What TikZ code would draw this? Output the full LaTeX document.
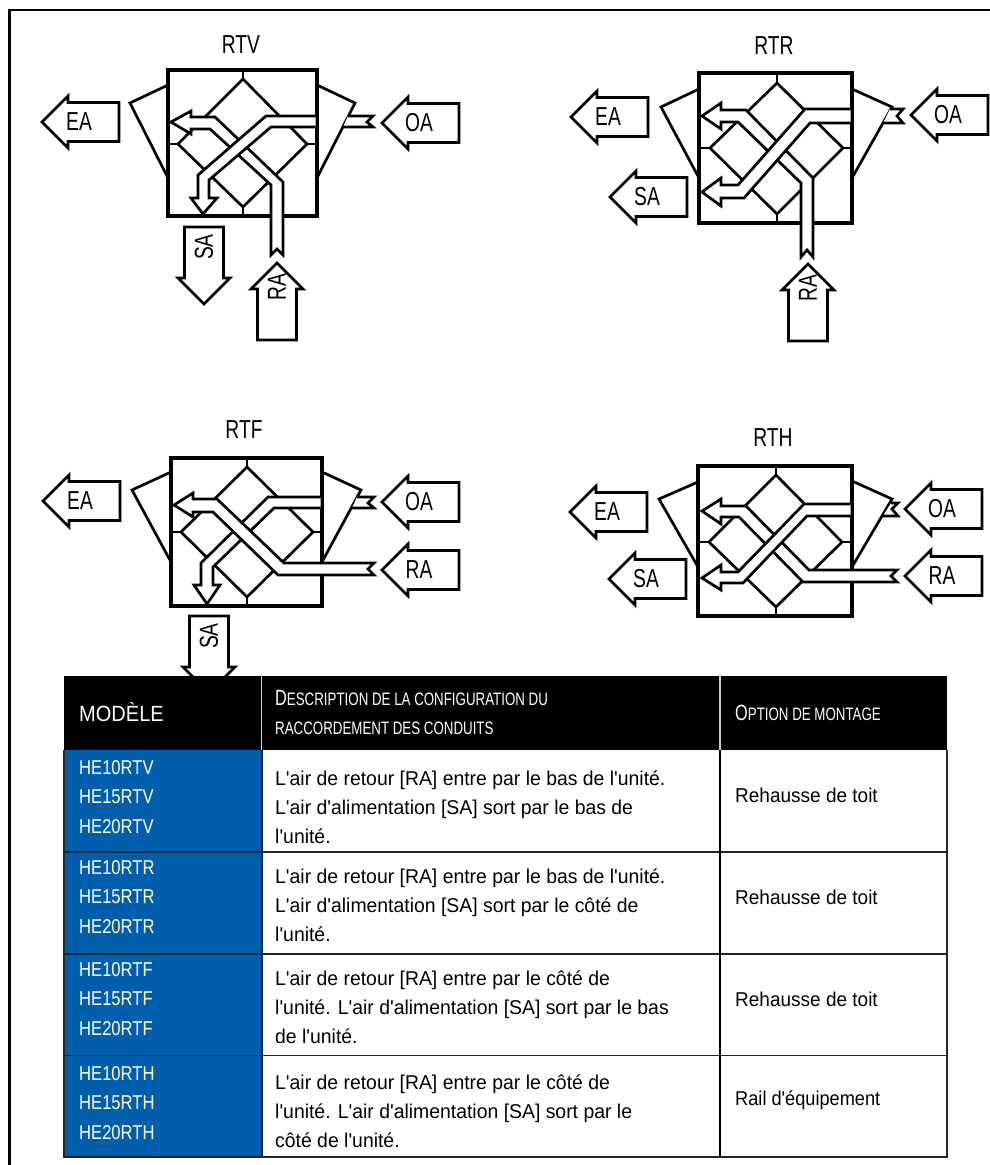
\documentclass[tikz,border=0pt]{standalone}
\usepackage{fontspec}
\setmainfont{Liberation Sans}
\newfontfamily\narrowfont[FakeStretch=0.74]{Liberation Sans}
\newfontfamily\cellfamily[FakeStretch=0.97]{Liberation Sans}
\newfontfamily\optfamily[FakeStretch=0.95]{Liberation Sans}
\newfontfamily\railfamily[FakeStretch=0.91]{Liberation Sans}
\newfontfamily\modelfamily[FakeStretch=0.83]{Liberation Sans}
\newfontfamily\headfamily[FakeStretch=0.74]{Liberation Sans}
\newfontfamily\modelhead[FakeStretch=0.91]{Liberation Sans}
\newcommand{\lbl}{\narrowfont\fontsize{26}{26}\selectfont}
\newcommand{\cellf}{\cellfamily\fontsize{20}{29}\selectfont}
\newcommand{\hdbig}{\fontsize{22}{29}\selectfont}
\newcommand{\hdsmall}{\headfamily\fontsize{18}{29}\selectfont}
\definecolor{tblue}{HTML}{005EAC}
\definecolor{navy}{HTML}{0B2A4A}
\tikzset{
  frameline/.style={line width=2.6pt,black},
  boxline/.style={line width=3.2pt,black,line join=miter},
  thin part/.style={line width=2.7pt,black,line join=miter},
  flowband/.style={line width=2.7pt,black,fill=white,line join=miter},
  airbox/.style={line width=2.7pt,black,fill=white,line join=miter},
  lab/.style={inner sep=0pt,font=\lbl},
  cell/.style={inner sep=0pt,anchor=west,align=left,font=\cellf,text=black},
  modelcell/.style={cell,text=white,font=\modelfamily\fontsize{20}{29.3}\selectfont},
  optcell/.style={cell,font=\optfamily\fontsize{20}{29}\selectfont},
  headcell/.style={inner sep=0pt,anchor=west,align=left,text=white,font=\hdsmall}
}
% left pointing air arrow: tip x, tip y, name, label
\newcommand{\airleft}[4]{%
  \draw[airbox] (#1,#2) -- ++(26,-26) -- ++(0,6.5) -- ++(51,0) -- ++(0,39) -- ++(-51,0) -- ++(0,6.5) -- cycle;
  \node[lab] (#3) at ([xshift=37pt]#1,#2) {#4};}
% down pointing air arrow: tip x, tip y
\newcommand{\airdown}[4]{%
  \draw[airbox] (#1,#2) -- ++(-26,-26) -- ++(6.5,0) -- ++(0,-51) -- ++(39,0) -- ++(0,51) -- ++(6.5,0) -- cycle;
  \node[lab,rotate=90] (#3) at ([yshift=57pt]#1,#2) {#4};}
% up pointing air arrow
\newcommand{\airup}[4]{%
  \draw[airbox] (#1,#2) -- ++(-26,26) -- ++(6.5,0) -- ++(0,51) -- ++(39,0) -- ++(0,-51) -- ++(6.5,0) -- cycle;
  \node[lab,rotate=90] (#3) at ([yshift=-24pt]#1,#2) {#4};}
% x0 y0 x1 y1 : box; cx cy : centre; top and bottom of the diamond; \dl \dr its sides
\newcommand{\core}[8]{%
  \draw[boxline] (#1,#2) rectangle (#3,#4);
  \draw[thin part] (#5,#7) -- (\dl,#6) -- (#5,#8) -- (\dr,#6) -- cycle;
  \draw[thin part] (#5,#7) -- (#5,#2);
  \draw[thin part] (#5,#8) -- (#5,#4);
  \draw[thin part] (#1,#6) -- (\dl,#6);
  \draw[thin part] (#3,#6) -- (\dr,#6);
}
\newcommand{\hoods}[9]{%
  \draw[thin part] (#1,#2) -- (#3,#4) -- (#1,#5);
  \draw[thin part] (#6,#7) -- (#8,#9) -- (#6,#5);
}
\begin{document}
\begin{tikzpicture}[x=1pt,y=-1pt]
\useasboundingbox (0,0) rectangle (990,1165);
\fill[white] (0,0) rectangle (990,1165);
\draw[frameline] (990,10) -- (9.5,10) -- (9.5,1165);

% ---------- RTV
\node[lab] (tRTV) at (241,45) {RTV};
\airleft{42}{122}{eaV}{EA}
\airleft{382}{123}{oaV}{OA}
\airdown{204}{304}{saV}{SA}
\airup{277}{263}{raV}{RA}
\def\dl{178}\def\dr{307}
\core{168}{70}{317}{216}{243}{144}{79}{207}
\hoods{168}{85}{130}{103}{178}{317}{85}{355}{103}
\filldraw[flowband] (171,122) -- (191,111) -- (191,117) -- (215,117) -- (283,182) -- (283,255) -- (277,249) -- (271,255) -- (271,185) -- (210,129) -- (191,129) -- (191,134) -- cycle;
\filldraw[flowband] (315.5,116) -- (266,116) -- (198,175) -- (198,198) -- (191,198) -- (203,214) -- (217,198) -- (209,198) -- (209,180) -- (271,127) -- (315.5,127);
\filldraw[flowband] (348,116) -- (373,116) -- (367,122) -- (373,127) -- (343,127);

% ---------- RTR
\node[lab] (tRTR) at (774,46) {RTR};
\airleft{571}{117}{eaR}{EA}
\airleft{610}{197}{saR}{SA}
\airleft{911}{115}{oaR}{OA}
\airup{808}{264}{raR}{RA}
\def\dl{710}\def\dr{843}
\core{699}{73}{852}{223}{777}{148}{83}{214}
\hoods{699}{89}{661}{107}{178}{852}{89}{892}{107}
\filldraw[flowband] (702,116) -- (721,103) -- (721,110) -- (746,110) -- (813,178) -- (813,257) -- (807,250) -- (801,257) -- (801,183) -- (738,122) -- (721,122) -- (721,129) -- cycle;
\filldraw[flowband] (850.5,109) -- (805,109) -- (738,185) -- (721,185) -- (721,178) -- (702,192) -- (721,206) -- (721,198) -- (744,198) -- (810,123) -- (850.5,123);
\filldraw[flowband] (890,109) -- (903,109) -- (897,116) -- (903,123) -- (883,123);

% ---------- RTF
\node[lab] (tRTF) at (244,430) {RTF};
\airleft{43}{501}{eaF}{EA}
\airleft{382}{502}{oaF}{OA}
\airleft{382}{570}{raF}{RA}
\airdown{209}{693}{saF}{SA}
\def\dl{181}\def\dr{313}
\core{171}{458}{322}{606}{247}{532}{467}{597}
\hoods{171}{472}{132}{490}{562}{322}{472}{361}{490}
\filldraw[flowband] (320.5,497) -- (268,497) -- (201,563) -- (201,585) -- (194,585) -- (207,604) -- (220,585) -- (213,585) -- (213,567) -- (274,508) -- (320.5,508);
\filldraw[flowband] (174,505) -- (193,493) -- (193,499) -- (217,499) -- (284,563) -- (374,563) -- (368,569) -- (374,575) -- (278,575) -- (213,512) -- (193,512) -- (193,517) -- cycle;
\filldraw[flowband] (357,497) -- (374,497) -- (368,503) -- (374,508) -- (352,508);

% ---------- RTH
\node[lab] (tRTH) at (773,438) {RTH};
\airleft{570}{512}{eaH}{EA}
\airleft{609}{579}{saH}{SA}
\airleft{905}{509}{oaH}{OA}
\airleft{905}{576}{raH}{RA}
\def\dl{709}\def\dr{842}
\core{698}{466}{852}{616}{776}{542}{475}{607}
\hoods{698}{482}{659}{499}{567}{852}{481}{892}{499}
\filldraw[flowband] (702,511) -- (721,499) -- (721,506) -- (746,506) -- (809,570) -- (897,570) -- (891,576) -- (897,582) -- (803,582) -- (739,517) -- (721,517) -- (721,524) -- cycle;
\filldraw[flowband] (850.5,504) -- (804,504) -- (738,572) -- (721,572) -- (721,565) -- (702,578) -- (721,590) -- (721,583) -- (743,583) -- (807,516) -- (850.5,516);
\filldraw[flowband] (891,503) -- (898,503) -- (892,509) -- (898,516) -- (883,516);

% ---------- Table
\fill[black] (64,676) rectangle (947,750);
\fill[tblue] (64,750) rectangle (262,1157);
\draw[black!85,line width=1.5pt] (262,852) -- (947,852) (262,954) -- (947,954) (262,1055.5) -- (947,1055.5);
\draw[navy,line width=1.5pt] (64,852) -- (262,852) (64,954) -- (262,954) (64,1055.5) -- (262,1055.5) (262,750) -- (262,1157);
\draw[black,line width=1.5pt] (720,750) -- (720,1157);
\draw[black!20,line width=1.5pt] (261.5,676) -- (261.5,750) (720,676) -- (720,750);
\draw[black!85,line width=2.4pt] (64,750) -- (64,1157) -- (947,1157) -- (947,750);

\node[headcell,font=\modelhead\fontsize{22}{29}\selectfont] (h1) at (79,712) {MODÈLE};
\node[headcell] (h2) at (275,712.5) {{\hdbig D}ESCRIPTION DE LA CONFIGURATION DU\\RACCORDEMENT DES CONDUITS};
\node[headcell] (h3) at (735,713) {{\hdbig O}PTION DE MONTAGE};

\node[modelcell] (m1) at (79,797) {HE10RTV\\HE15RTV\\HE20RTV};
\node[modelcell] (m2) at (79,897) {HE10RTR\\HE15RTR\\HE20RTR};
\node[modelcell] (m3) at (79,999) {HE10RTF\\HE15RTF\\HE20RTF};
\node[modelcell] (m4) at (79,1103) {HE10RTH\\HE15RTH\\HE20RTH};

\node[cell] (d1) at (275,807) {L'air de retour [RA] entre par le bas de l'unité.\\L'air d'alimentation [SA] sort par le bas de\\l'unité.};
\node[cell] (d2) at (275,905) {L'air de retour [RA] entre par le bas de l'unité.\\L'air d'alimentation [SA] sort par le côté de\\l'unité.};
\node[cell] (d3) at (275,1007) {L'air de retour [RA] entre par le côté de\\l'unité. L'air d'alimentation [SA] sort par le bas\\de l'unité.};
\node[cell] (d4) at (275,1111) {L'air de retour [RA] entre par le côté de\\l'unité. L'air d'alimentation [SA] sort par le\\côté de l'unité.};

\node[optcell] (o1) at (735,795) {Rehausse de toit};
\node[optcell] (o2) at (735,897) {Rehausse de toit};
\node[optcell] (o3) at (735,999) {Rehausse de toit};
\node[optcell,font=\railfamily\fontsize{20}{29}\selectfont] (o4) at (735,1100) {Rail d'équipement};
\end{tikzpicture}
\end{document}
